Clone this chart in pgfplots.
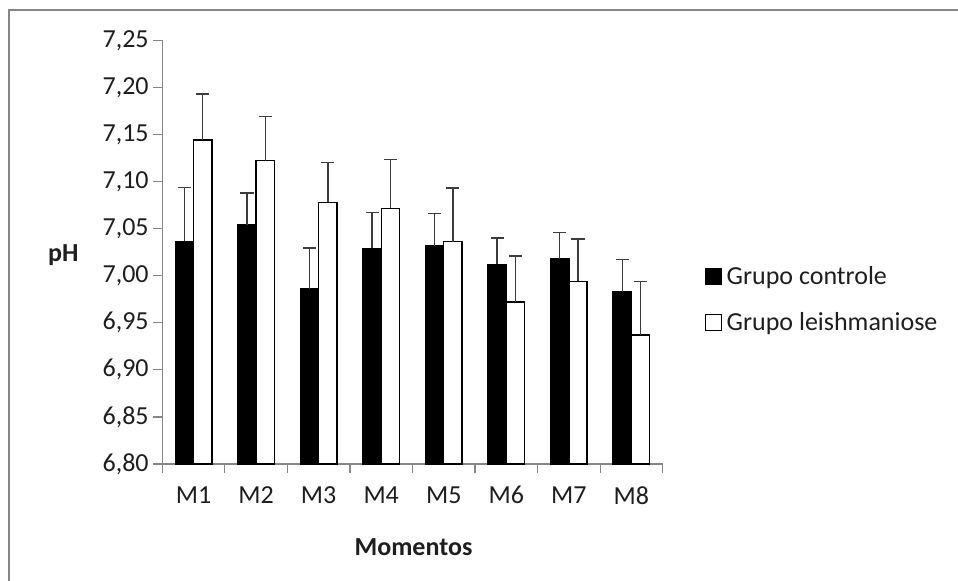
\documentclass[border=0pt]{standalone}
\usepackage{pgfplots}
\pgfplotsset{compat=1.18}
\usepackage{fontspec}
\setmainfont{Carlito}

\definecolor{axisgray}{HTML}{868686}
\definecolor{errgray}{HTML}{3C3C3C}
\definecolor{txt}{HTML}{1E1E1E}

\begin{document}
\begin{tikzpicture}
\useasboundingbox (0pt,0pt) rectangle (718.5pt,435.75pt);
% chart area frame
\draw[axisgray, line width=1.5pt] (6.75pt,0pt) -- (6.75pt,428.25pt) -- (718.5pt,428.25pt);
\begin{axis}[
  at={(121.725pt,87.75pt)}, anchor=south west,
  scale only axis, width=375.3pt, height=317.8pt,
  font=\fontsize{19.5}{23}\selectfont, text=txt,
  ybar=0pt, bar width=13.7pt,
  xmin=-0.5, xmax=7.5, ymin=6.8, ymax=7.25,
  axis lines*=left,
  axis line style={axisgray, line width=0.9pt},
  every tick/.style={axisgray, line width=0.9pt},
  tick align=outside,
  major tick length=6.75pt,
  xtick={-0.5,0.5,...,7.5},
  x tick label as interval,
  xticklabels={M1,M2,M3,M4,M5,M6,M7,M8},
  ytick={6.80,6.85,...,7.26},
  /pgf/number format/.cd, use comma, fixed, fixed zerofill, precision=2, assume math mode=true,
  /pgfplots/.cd,
  yticklabel style={/pgf/number format/.cd, use comma, fixed, fixed zerofill, precision=2},
  xticklabel style={yshift=-6.5pt},
  xlabel={\bfseries Momentos},
  ylabel={\bfseries pH},
  ylabel style={at={(axis description cs:-0.198,0.493)}, rotate=-90, anchor=center},
  xlabel style={at={(axis description cs:0.502,-0.196)}, anchor=center},
  legend style={draw=none, fill=none, at={(axis description cs:1.0845,0.388)}, anchor=west,
    inner xsep=0pt, inner ysep=0pt, row sep=15.5pt,
    nodes={inner xsep=3.5pt, text=txt},
    font=\fontsize{19.5}{23}\selectfont},
  legend image code/.code={\draw[#1, draw=black, line width=0.6pt] (0pt,-6pt) rectangle (12pt,6pt);},
  legend cell align=left,
  clip=false,
]
% Grupo controle
\addplot[fill=black, draw=black, line width=1pt,
  error bars/.cd, y dir=plus, y explicit,
  error bar style={errgray, line width=1.1pt},
  error mark options={errgray, rotate=90, mark size=4.9pt, line width=1.1pt}]
  coordinates {
  (0,7.0365) +- (0,0.057)
  (1,7.054)  +- (0,0.034)
  (2,6.986)  +- (0,0.0435)
  (3,7.029)  +- (0,0.038)
  (4,7.032)  +- (0,0.034)
  (5,7.012)  +- (0,0.028)
  (6,7.018)  +- (0,0.028)
  (7,6.983)  +- (0,0.034)
  };
% Grupo leishmaniose
\addplot[fill=white, draw=black, line width=1pt,
  error bars/.cd, y dir=plus, y explicit,
  error bar style={errgray, line width=1.1pt},
  error mark options={errgray, rotate=90, mark size=4.9pt, line width=1.1pt}]
  coordinates {
  (0,7.144)  +- (0,0.049)
  (1,7.122)  +- (0,0.047)
  (2,7.078)  +- (0,0.042)
  (3,7.0715) +- (0,0.052)
  (4,7.036)  +- (0,0.057)
  (5,6.972)  +- (0,0.049)
  (6,6.994)  +- (0,0.045)
  (7,6.937)  +- (0,0.057)
  };
\legend{Grupo controle, Grupo leishmaniose}
\end{axis}
\end{tikzpicture}
\end{document}
